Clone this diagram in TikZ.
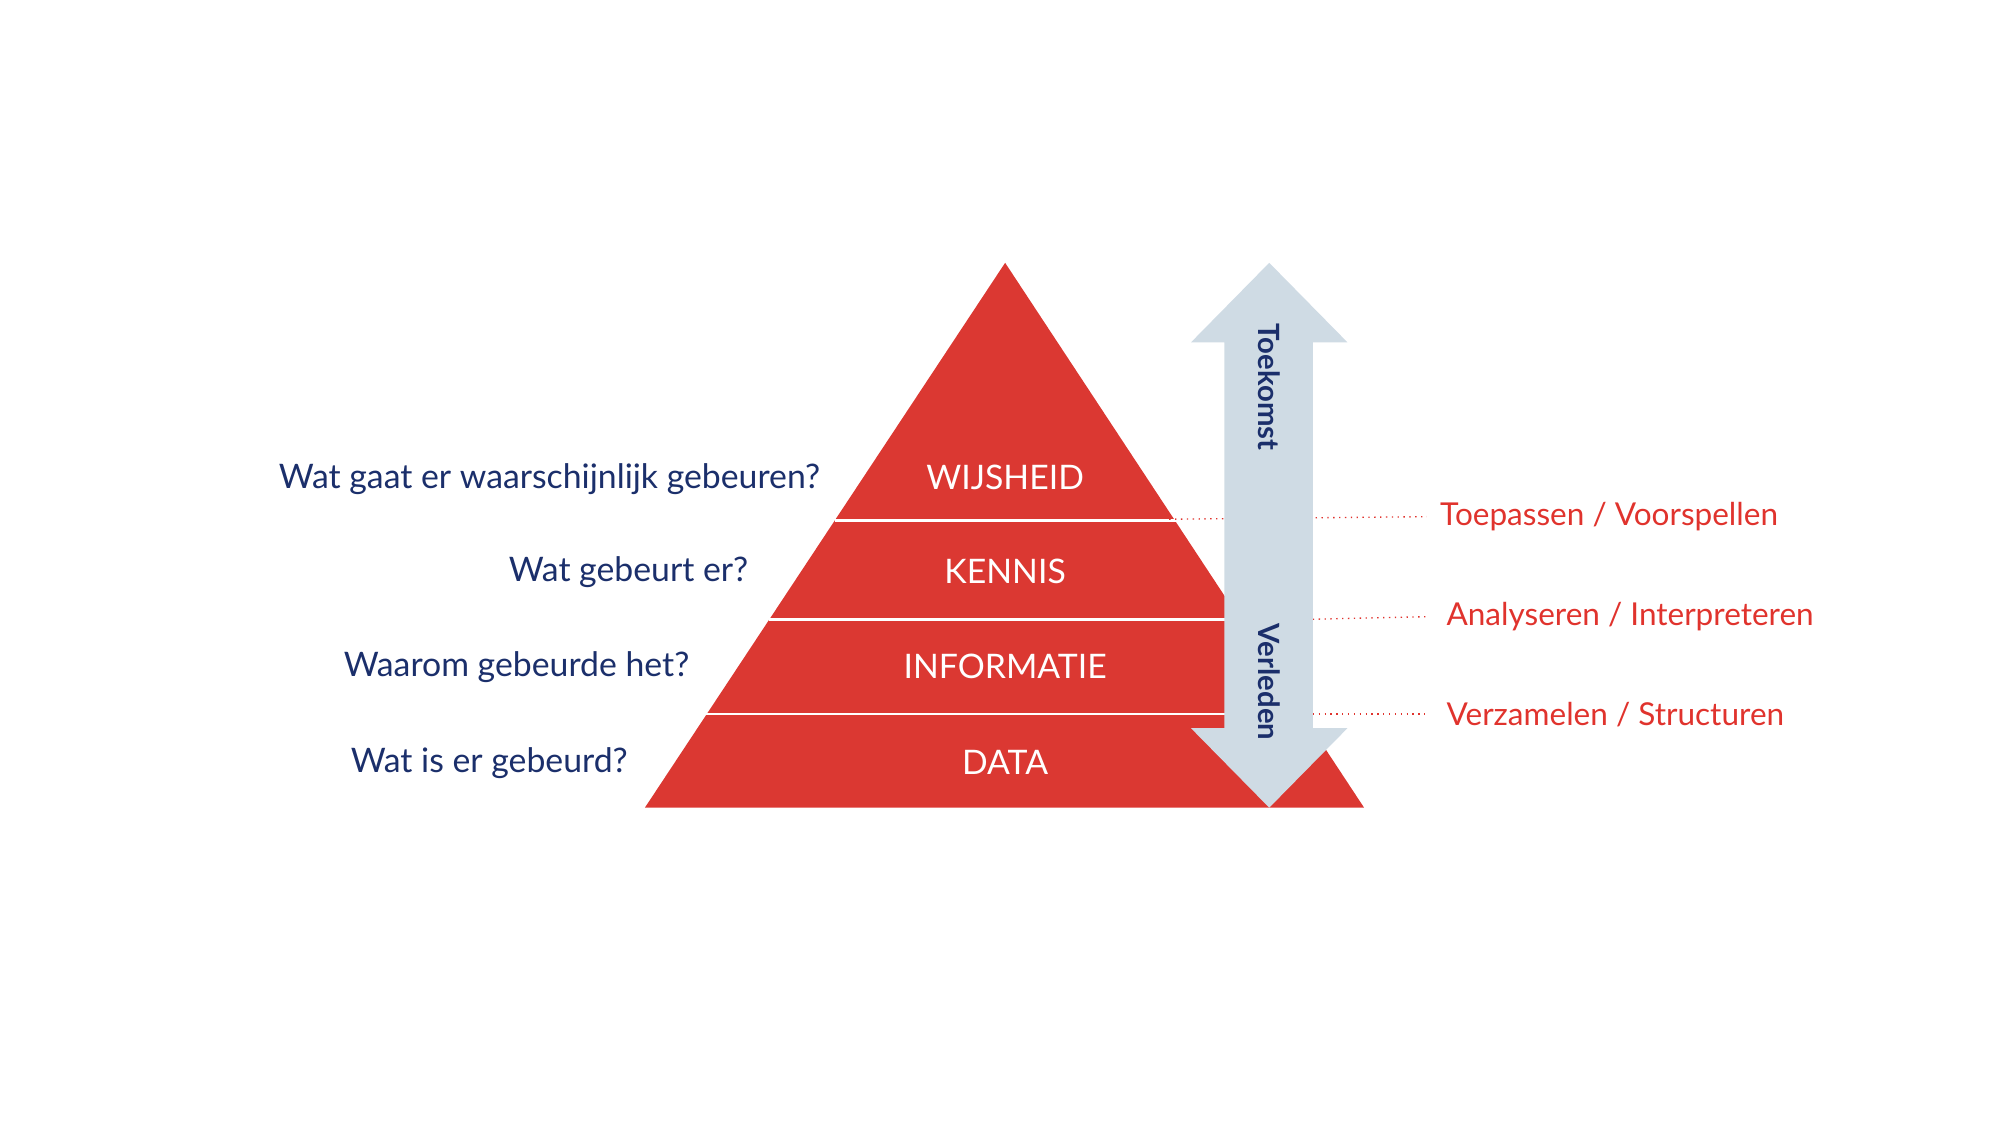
\documentclass[tikz,border=0pt]{standalone}
\usepackage{fontspec}
\setmainfont{Lato}
\usetikzlibrary{calc}
\definecolor{pyrred}{HTML}{DB3832}
\definecolor{txtred}{HTML}{E0332D}
\definecolor{arrblue}{HTML}{CFDBE4}
\definecolor{navy}{HTML}{1B2F6B}
\begin{document}
\begin{tikzpicture}[x={(0.02cm,0)}, y={(0,-0.02cm)},
		layer/.style={text=white, font=\fontsize{15}{18}\selectfont},
		question/.style={text=navy, anchor=east, inner sep=0pt, font=\fontsize{15}{18}\selectfont},
		action/.style={text=txtred, anchor=west, inner sep=0pt, font=\fontsize{14}{17}\selectfont},
		timelabel/.style={text=navy, rotate=-90, font=\bfseries\fontsize{13}{16}\selectfont},
		dots/.style={txtred, dotted, line width=0.6pt},
		sep/.style={white, line width=1.2pt}
		]
		\useasboundingbox (0,0) rectangle (1560,878);

		% pyramid
		\fill[pyrred] (784,205) -- (1064,630) -- (503,630) -- cycle;
		\draw[sep] (651,406) -- (917,406);
		\draw[sep] (600,483) -- (968,483);
		\draw[sep] (551,557) -- (1017,557);

		% actions on the right
		\node[action] (toep) at (1123,403) {Toepassen / Voorspellen};
		\node[action] (anal) at (1128,481) {Analyseren / Interpreteren};
		\node[action] (verz) at (1128,557) {Verzamelen / Structuren};
		\coordinate (d1) at (912,405);
		\coordinate (d2) at (1024,483);
		\coordinate (d3) at (1024,557);
		\draw[dots] (d1) -- ($(toep.west)+(-10,0)$);
		\draw[dots] (d2) -- ($(anal.west)+(-15,0)$);
		\draw[dots] (d3) -- ($(verz.west)+(-15,0)$);

		% double arrow
		\fill[arrblue] (990,205) -- (1051,267) -- (1024,267) -- (1024,568) -- (1051,568)
			-- (990,630) -- (929,568) -- (955,568) -- (955,267) -- (929,267) -- cycle;
		\node[timelabel] (future) at (990,302) {Toekomst};
		\node[timelabel] (past) at (990,532) {Verleden};

		% layers
		\node[layer] (wijs) at (784,372) {WIJSHEID};
		\node[layer] (kenn) at (784,446) {KENNIS};
		\node[layer] (info) at (784,520) {INFORMATIE};
		\node[layer] (data) at (784,595) {DATA};

		% questions
		\node[question] (q1) at (640,374) {Wat gaat er waarschijnlijk gebeuren?};
		\node[question] (q2) at (584,446) {Wat gebeurt er?};
		\node[question] (q3) at (538,520) {Waarom gebeurde het?};
		\node[question] (q4) at (490,595) {Wat is er gebeurd?};
	\end{tikzpicture}
\end{document}
